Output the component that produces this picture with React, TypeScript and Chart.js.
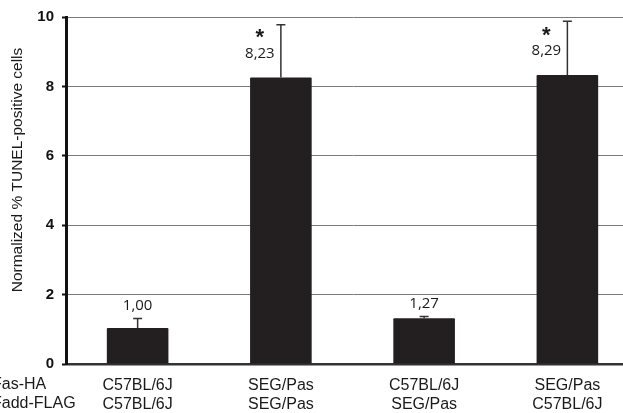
import React, { useEffect, useRef } from "react";
import { Chart, registerables } from "chart.js";

Chart.register(...registerables);

const categories: string[][] = [
  ["C57BL/6J", "C57BL/6J"],
  ["SEG/Pas", "SEG/Pas"],
  ["C57BL/6J", "SEG/Pas"],
  ["SEG/Pas", "C57BL/6J"],
];
const rowLabels = ["Fas-HA", "Fadd-FLAG"];
const values = [1.04, 8.26, 1.32, 8.33];
const errors = [0.27, 1.52, 0.05, 1.55];
const valueLabels = ["1,00", "8,23", "1,27", "8,29"];
const significant = [false, true, false, true];
const yTicks = [0, 2, 4, 6, 8, 10];
const yTitle = "Normalized % TUNEL-positive cells";

const overlay = {
  id: "overlay",
  afterDatasetsDraw(chart: any) {
    const ctx = chart.ctx;
    const meta = chart.getDatasetMeta(0);
    const ys = chart.scales.y;
    ctx.save();
    meta.data.forEach((el: any, i: number) => {
      const x = el.x;
      const top = ys.getPixelForValue(values[i]);
      const tip = ys.getPixelForValue(values[i] + errors[i]);
      ctx.strokeStyle = "#333";
      ctx.lineWidth = 1.5;
      ctx.beginPath();
      ctx.moveTo(x, top);
      ctx.lineTo(x, tip);
      ctx.moveTo(x - 4.5, tip);
      ctx.lineTo(x + 4.5, tip);
      ctx.stroke();
      const big = errors[i] > 0.5;
      const lx = big ? x - 21 : x;
      const ly = big ? top - 24 : tip - 13;
      ctx.fillStyle = "#1a1a1a";
      ctx.font = "15px 'Open Sans'";
      ctx.textAlign = "center";
      ctx.textBaseline = "middle";
      ctx.fillText(valueLabels[i], lx, ly);
      if (significant[i]) {
        ctx.font = "bold 22px 'Liberation Sans'";
        ctx.textBaseline = "alphabetic";
        ctx.fillText("*", lx, ly - 21 + 12);
      }
    });
    ctx.fillStyle = "#1a1a1a";
    ctx.font = "15.5px 'Liberation Sans'";
    ctx.textAlign = "center";
    ctx.textBaseline = "middle";
    ctx.translate(18, 170);
    ctx.rotate(-Math.PI / 2);
    ctx.fillText(yTitle, 0, 0);
    ctx.restore();
    ctx.save();
    ctx.fillStyle = "#1a1a1a";
    ctx.font = "16px 'Liberation Sans'";
    ctx.textAlign = "left";
    ctx.textBaseline = "middle";
    ctx.fillText(rowLabels[0], -8, 385);
    ctx.fillText(rowLabels[1], -8, 404);
    ctx.restore();
  },
};

export default function App() {
  const ref = useRef<HTMLCanvasElement>(null);
  useEffect(() => {
    if (!ref.current) return;
    const chart = new Chart(ref.current, {
      type: "bar",
      data: {
        labels: categories as any,
        datasets: [
          {
            data: values,
            backgroundColor: "#231f20",
            borderRadius: 1,
            categoryPercentage: 1,
            barPercentage: 0.43,
          },
        ],
      },
      options: {
        responsive: false,
        animation: false,
        layout: { padding: { top: 17, right: 11, left: 0, bottom: 0 } },
        plugins: { legend: { display: false }, tooltip: { enabled: false } },
        scales: {
          x: {
            grid: { display: false, drawTicks: false },
            border: { display: true, color: "#333", width: 2.5 },
            ticks: {
              color: "#1a1a1a",
              font: { family: "'Liberation Sans'", size: 16, lineHeight: 1.19 },
              padding: 12,
              maxRotation: 0,
            },
            afterFit: (s: any) => {
              s.height = 49;
            },
          },
          y: {
            min: 0,
            max: 10,
            afterBuildTicks: (s: any) => {
              s.ticks = yTicks.map((v) => ({ value: v }));
            },
            grid: {
              color: "#7a7a7a",
              lineWidth: 1,
              tickLength: 4,
              tickColor: "#111",
              tickWidth: 2,
            },
            border: { display: true, color: "#111", width: 3 },
            ticks: {
              color: "#111",
              padding: 8,
              font: { family: "'Liberation Sans'", size: 15, weight: "bold" },
            },
            afterFit: (s: any) => {
              s.width = 66;
            },
          },
        },
      },
      plugins: [overlay],
    });
    return () => chart.destroy();
  }, []);
  return (
    <div
      style={{
        position: "fixed",
        left: 0,
        top: 0,
        width: 623,
        height: 413,
        overflow: "hidden",
        background: "#fff",
      }}
    >
      <canvas ref={ref} width={650} height={413} style={{ width: 650, height: 413, display: "block" }} />
    </div>
  );
}
